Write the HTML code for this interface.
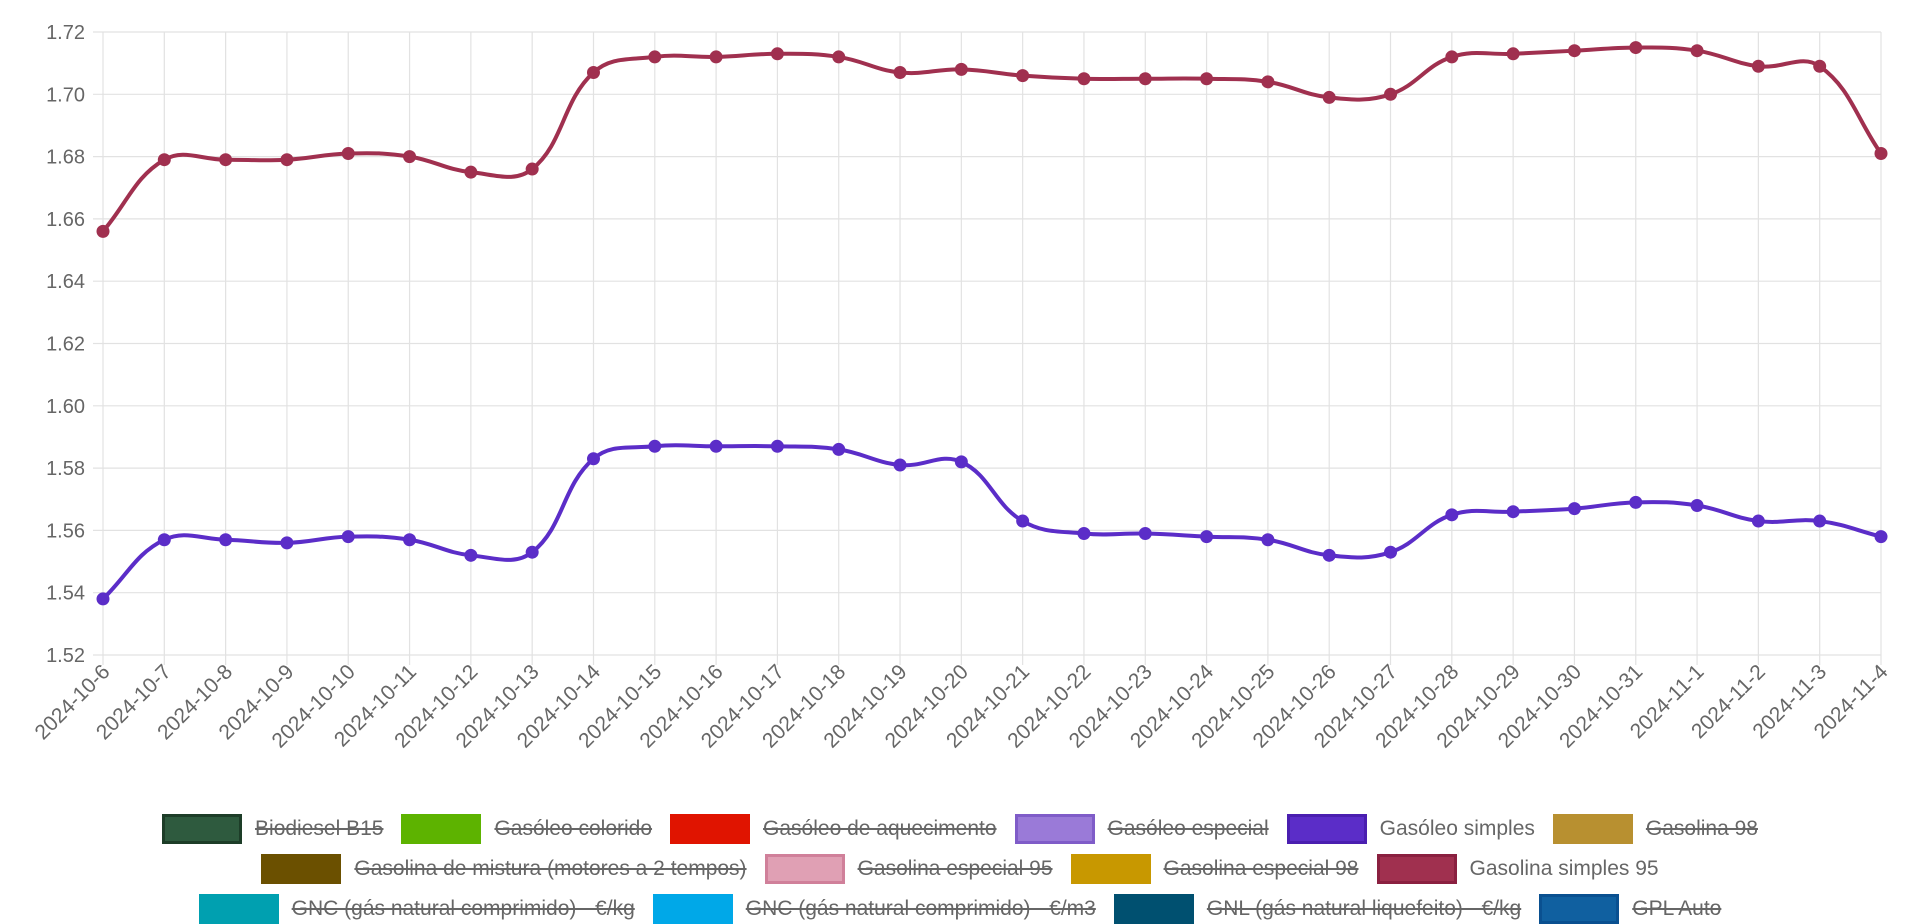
<!DOCTYPE html>
<html><head><meta charset="utf-8"><style>
body{margin:0;background:#fff;width:1920px;height:914px;overflow:hidden;font-family:"Liberation Sans",sans-serif}
svg{position:absolute;left:0;top:0}
.leg{position:absolute;left:0;width:1920px;display:flex;justify-content:center;font-size:21px;color:#666;line-height:28px}
.it{display:flex;align-items:center;margin:0 9px}
.bx{width:74px;height:24px;border:3px solid;margin-right:13px;box-sizing:content-box}
.s{text-decoration:line-through}
</style></head><body>
<svg id="c" width="1920" height="914" xmlns="http://www.w3.org/2000/svg"></svg>
<div class="leg" style="top:814px">
<div class="it"><span class="bx" style="background:#2e5a3e;border-color:#1d3d28"></span><span class="s">Biodiesel B15</span></div>
<div class="it"><span class="bx" style="background:#5db300;border-color:#5db300"></span><span class="s">Gasóleo colorido</span></div>
<div class="it"><span class="bx" style="background:#e01400;border-color:#e01400"></span><span class="s">Gasóleo de aquecimento</span></div>
<div class="it"><span class="bx" style="background:#9a7ad8;border-color:#7f5cc8"></span><span class="s">Gasóleo especial</span></div>
<div class="it"><span class="bx" style="background:#5b2dc8;border-color:#4a1fb0"></span><span>Gasóleo simples</span></div>
<div class="it"><span class="bx" style="background:#b89030;border-color:#b89030"></span><span class="s">Gasolina 98</span></div>
</div>
<div class="leg" style="top:854px">
<div class="it"><span class="bx" style="background:#6b5000;border-color:#6b5000"></span><span class="s">Gasolina de mistura (motores a 2 tempos)</span></div>
<div class="it"><span class="bx" style="background:#e0a0b4;border-color:#d0809a"></span><span class="s">Gasolina especial 95</span></div>
<div class="it"><span class="bx" style="background:#c89800;border-color:#c89800"></span><span class="s">Gasolina especial 98</span></div>
<div class="it"><span class="bx" style="background:#a0304f;border-color:#8a2040"></span><span>Gasolina simples 95</span></div>
</div>
<div class="leg" style="top:894px">
<div class="it"><span class="bx" style="background:#00a0b0;border-color:#00a0b0"></span><span class="s">GNC (gás natural comprimido) - €/kg</span></div>
<div class="it"><span class="bx" style="background:#00a8e8;border-color:#00a8e8"></span><span class="s">GNC (gás natural comprimido) - €/m3</span></div>
<div class="it"><span class="bx" style="background:#005070;border-color:#005070"></span><span class="s">GNL (gás natural liquefeito) - €/kg</span></div>
<div class="it"><span class="bx" style="background:#1060a0;border-color:#0a5090"></span><span class="s">GPL Auto</span></div>
</div>
<script>
var svg=document.getElementById('c'),h='';
var x0=103,x1=1881,y0=32,yb=655,n=30,dx=(x1-x0)/29;
function Y(v){return y0+(1.72-v)/0.2*(yb-y0)}
var dates=[];for(var d=6;d<=31;d++)dates.push('2024-10-'+d);for(d=1;d<=4;d++)dates.push('2024-11-'+d);
for(var i=0;i<=10;i++){var v=1.72-i*0.02,y=Y(v);h+='<line x1="'+(x0-10)+'" x2="'+x1+'" y1="'+y+'" y2="'+y+'" stroke="#e2e2e2" stroke-width="1.2"/>';
h+='<text x="85" y="'+(y+7)+'" font-size="20" fill="#666" text-anchor="end">'+v.toFixed(2)+'</text>';}
for(i=0;i<n;i++){var x=x0+i*dx;h+='<line x1="'+x+'" x2="'+x+'" y1="'+y0+'" y2="'+(yb+10)+'" stroke="#e2e2e2" stroke-width="1.2"/>';
h+='<text transform="translate('+(x+8)+','+(yb+18)+') rotate(-45)" font-size="21" fill="#666" text-anchor="end">'+dates[i]+'</text>';}
function series(vals,col){var p=vals.map(function(v,i){return[x0+i*dx,Y(v)]});var t=0.4,cp=[];
for(var i=0;i<p.length;i++){var a=p[i-1]||p[i],b=p[i],c=p[i+1]||p[i];var d01=Math.hypot(b[0]-a[0],b[1]-a[1]),d12=Math.hypot(c[0]-b[0],c[1]-b[1]);var s=d01+d12,fa=s?t*d01/s:0,fb=s?t*d12/s:0;
cp.push([[b[0]-fa*(c[0]-a[0]),b[1]-fa*(c[1]-a[1])],[b[0]+fb*(c[0]-a[0]),b[1]+fb*(c[1]-a[1])]]);}
var d='M'+p[0][0]+','+p[0][1];for(i=1;i<p.length;i++)d+=' C'+cp[i-1][1][0]+','+cp[i-1][1][1]+' '+cp[i][0][0]+','+cp[i][0][1]+' '+p[i][0]+','+p[i][1];
var r='<path d="'+d+'" fill="none" stroke="'+col+'" stroke-width="4"/>';p.forEach(function(q){r+='<circle cx="'+q[0]+'" cy="'+q[1]+'" r="6.5" fill="'+col+'"/>'});return r;}
h+=series([1.656,1.679,1.679,1.679,1.681,1.680,1.675,1.676,1.707,1.712,1.712,1.713,1.712,1.707,1.708,1.706,1.705,1.705,1.705,1.704,1.699,1.700,1.712,1.713,1.714,1.715,1.714,1.709,1.709,1.681],'#a0304f');
h+=series([1.538,1.557,1.557,1.556,1.558,1.557,1.552,1.553,1.583,1.587,1.587,1.587,1.586,1.581,1.582,1.563,1.559,1.559,1.558,1.557,1.552,1.553,1.565,1.566,1.567,1.569,1.568,1.563,1.563,1.558],'#5b2dc8');
svg.innerHTML=h;
</script>
</body></html>
